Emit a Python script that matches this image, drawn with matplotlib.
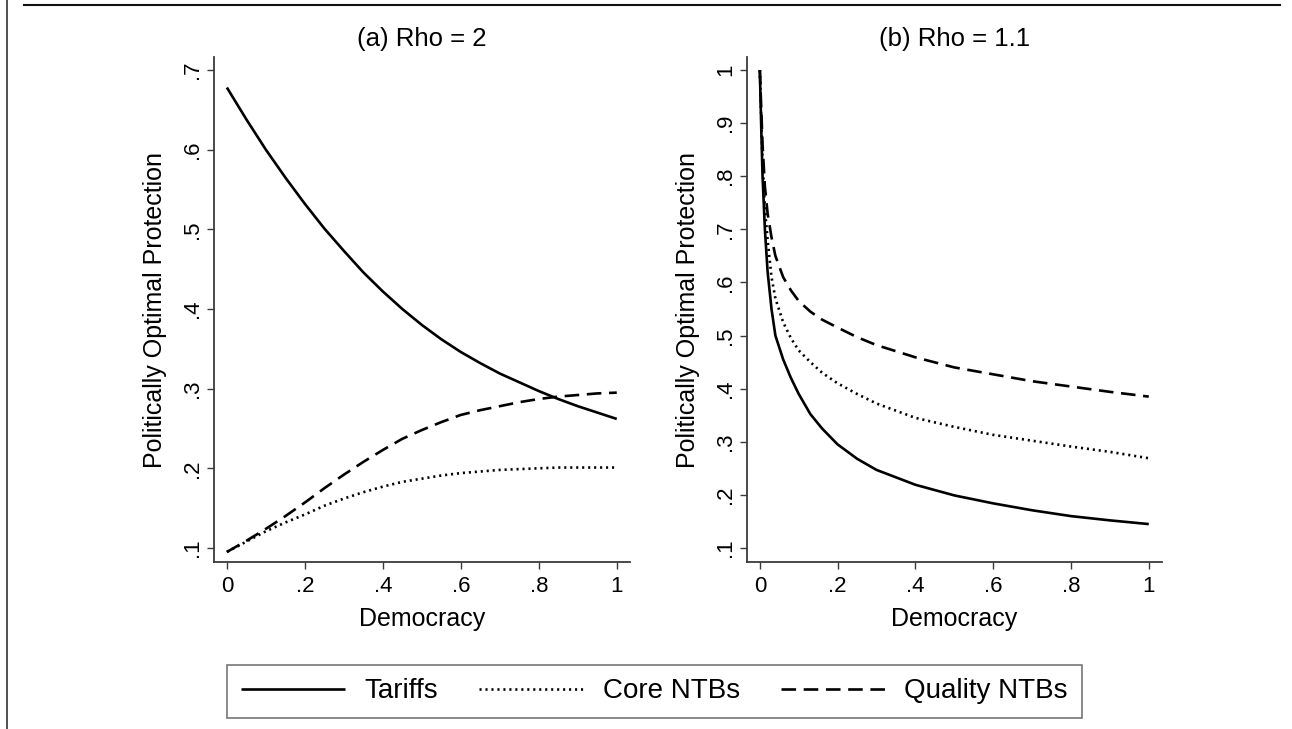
import matplotlib
matplotlib.use("Agg")
import matplotlib.pyplot as plt
from matplotlib.lines import Line2D

plt.rcParams['font.family'] = ['Liberation Sans', 'DejaVu Sans']
plt.rcParams['lines.scale_dashes'] = False

# ---------------- data ----------------
series_names = ["Tariffs", "Core NTBs", "Quality NTBs"]

# Panel (a) Rho = 2
democracy_a = [0, .05, .1, .15, .2, .25, .3, .35, .4, .45, .5, .55, .6, .65, .7, .75, .8, .85, .9, .95, 1]
tariffs_a = [.678, .638, .600, .565, .532, .501, .473, .446, .422, .400, .380, .362, .346, .332, .319, .308, .297, .287, .278, .270, .262]
core_a = [.095, .108, .121, .132, .142, .153, .162, .170, .177, .183, .187, .191, .194, .196, .198, .199, .200, .201, .201, .201, .201]
quality_a = [.095, .109, .124, .140, .157, .175, .192, .208, .223, .237, .248, .258, .267, .273, .278, .283, .287, .290, .292, .294, .295]

# Panel (b) Rho = 1.1
democracy_b = [0, .004, .007, .013, .02, .03, .04, .06, .08, .1, .13, .16, .2, .25, .3, .4, .5, .6, .7, .8, .9, 1]
tariffs_b = [1.0, .88, .80, .70, .62, .55, .50, .455, .42, .39, .352, .325, .295, .268, .247, .219, .199, .184, .171, .160, .152, .145]
core_b = [1.0, .90, .83, .74, .68, .61, .57, .525, .495, .472, .45, .43, .41, .39, .372, .345, .328, .313, .302, .291, .281, .269]
quality_b = [1.0, .92, .86, .78, .73, .685, .65, .61, .585, .565, .545, .53, .515, .497, .482, .459, .44, .427, .414, .404, .394, .385]

xticks = [0, .2, .4, .6, .8, 1]
xtick_labels = ["0", ".2", ".4", ".6", ".8", "1"]
yticks_a = [.1, .2, .3, .4, .5, .6, .7]
ytick_labels_a = [".1", ".2", ".3", ".4", ".5", ".6", ".7"]
yticks_b = [.1, .2, .3, .4, .5, .6, .7, .8, .9, 1]
ytick_labels_b = [".1", ".2", ".3", ".4", ".5", ".6", ".7", ".8", ".9", "1"]

titles = ["(a) Rho = 2", "(b) Rho = 1.1"]
xlabel = "Democracy"
ylabel = "Politically Optimal Protection"

# ---------------- layout ----------------
W, H = 1292, 729
fig = plt.figure(figsize=(W / 100, H / 100), dpi=100)


def rect(l, t, r, b):
    return [l / W, 1 - b / H, (r - l) / W, (b - t) / H]


ax_a = fig.add_axes(rect(214, 57, 630, 562))
ax_b = fig.add_axes(rect(747, 57, 1162, 562))

styles = ['-', (0, (1.5, 2.8)), (0, (10.5, 5.5))]
LW = 1.9
SPINE = '#3a3a3a'


def draw(ax, x, ys, yt, ytl, ylim, title):
    for y, ls, name in zip(ys, styles, series_names):
        ax.plot(x, y, color='black', lw=LW, ls=ls, label=name,
                solid_capstyle='butt', dash_capstyle='butt')
    ax.set_xlim(-0.033, 1.034)
    ax.set_ylim(*ylim)
    ax.set_xticks(xticks)
    ax.set_xticklabels(xtick_labels)
    ax.set_yticks(yt)
    ax.set_yticklabels(ytl, rotation=90, va='center')
    for s in ['top', 'right']:
        ax.spines[s].set_visible(False)
    for s in ['left', 'bottom']:
        ax.spines[s].set_color(SPINE)
        ax.spines[s].set_linewidth(1.3)
    ax.tick_params(direction='out', length=5, width=1, color=SPINE,
                   labelsize=16)
    ax.tick_params(axis='x', pad=5)
    ax.tick_params(axis='y', pad=3)
    ax.set_xlabel(xlabel, fontsize=18)
    ax.set_ylabel(ylabel, fontsize=18)
    ax.xaxis.set_label_coords(0.5, -0.112)
    ax.xaxis.label.set_va('center')
    ax.yaxis.set_label_coords(-0.142, 0.5)
    ax.yaxis.label.set_va('center')
    ax.text(0.5, 1.036, title, transform=ax.transAxes, ha='center',
            va='center', fontsize=18.5)


draw(ax_a, democracy_a, [tariffs_a, core_a, quality_a], yticks_a,
     ytick_labels_a, (0.0824, 0.7163), titles[0])
draw(ax_b, democracy_b, [tariffs_b, core_b, quality_b], yticks_b,
     ytick_labels_b, (0.0736, 1.0245), titles[1])

handles, labels = ax_a.get_legend_handles_labels()
leg = fig.legend(handles, labels, loc='center',
                 bbox_to_anchor=(654.5 / W, 1 - 691.5 / H),
                 ncol=3, frameon=True, fancybox=False,
                 edgecolor='#555555', handlelength=3.75, handletextpad=0.68,
                 columnspacing=1.5, fontsize=20, borderpad=0.5,
                 borderaxespad=0)
leg.get_frame().set_linewidth(1.2)

# outer frame fragments
fig.add_artist(Line2D([24 / W, 1280 / W], [1 - 4.5 / H] * 2,
                      transform=fig.transFigure, color='#111111', lw=1.5))
fig.add_artist(Line2D([6.5 / W] * 2, [0, 1], transform=fig.transFigure,
                      color='#222222', lw=1.1))

fig.savefig("out.png", dpi=100)
